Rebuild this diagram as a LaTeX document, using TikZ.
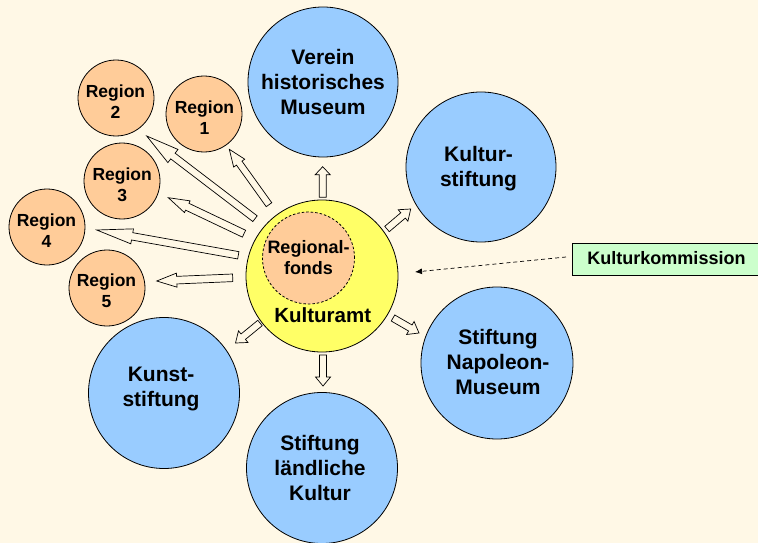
\documentclass[tikz,border=0pt]{standalone}
\usepackage{fontspec}
\setmainfont{Liberation Sans}
\usetikzlibrary{calc,arrows.meta}
\definecolor{bgc}{HTML}{FFF8E6}
\definecolor{bluec}{HTML}{99CCFF}
\definecolor{yelc}{HTML}{FFFF66}
\definecolor{peachc}{HTML}{FFCC99}
\definecolor{greenc}{HTML}{CCFFCC}
\tikzset{
  circbase/.style={circle, draw=black, line width=0.8pt, inner sep=0pt},
  bigc/.style={circbase, fill=bluec, minimum size=150pt},
  regc/.style={circbase, fill=peachc, minimum size=76pt},
  bigtxt/.style={align=center, inner sep=0pt, font=\fontsize{21}{25}\selectfont\bfseries},
  regtxt/.style={align=center, inner sep=0pt, font=\fontsize{17.5}{21}\selectfont\bfseries},
  barrow/.style={draw=black, line width=0.7pt, fill=bgc, line join=miter},
}
\newcommand\blockarr[6]{%
  \coordinate (#1t) at #2;
  \coordinate (#1p) at #3;
  \coordinate (#1h) at ($(#1p)!#6!(#1t)$);
  \draw[barrow] ($(#1t)!#4!90:(#1p)$) -- ($(#1h)!#4!90:(#1p)$) -- ($(#1h)!#5!90:(#1p)$)
    -- (#1p) -- ($(#1h)!#5!-90:(#1p)$) -- ($(#1h)!#4!-90:(#1p)$) -- ($(#1t)!#4!-90:(#1p)$) -- cycle;}
\begin{document}
\begin{tikzpicture}[x=1pt, y=-1pt]
\fill[bgc] (0,0) rectangle (758,543);
\useasboundingbox (0,0) rectangle (758,543);

% big blue circles
\node[bigc] (verein) at (323,82) {};
\node[bigc] (kstift) at (481,167) {};
\node[bigc, minimum size=152pt] (napol) at (497,363) {};
\node[bigc, minimum size=151pt] (laend) at (322,468) {};
\node[bigc, minimum size=151pt] (kunst) at (164,393) {};

\node[bigtxt] (tverein) at (323,81.5) {Verein\\historisches\\Museum};
\node[bigtxt] (tkstift) at (478.5,169) {Kultur-\\stiftung};
\node[bigtxt] (tnapol) at (498,361.5) {Stiftung\\Napoleon-\\Museum};
\node[bigtxt] (tlaend) at (320,468) {Stiftung\\ländliche\\Kultur};
\node[bigtxt] (tkunst) at (161,388.7) {Kunst-\\stiftung};

% regions
\node[regc] (r1) at (204,114) {};
\node[regc] (r2) at (116,98) {};
\node[regc] (r3) at (122,181) {};
\node[regc] (r4) at (47,227) {};
\node[regc] (r5) at (107,288) {};
\node[regtxt] (tr1) at (204.5,117.5) {Region\\1};
\node[regtxt] (tr2) at (115.5,101.5) {Region\\2};
\node[regtxt] (tr3) at (122.2,185) {Region\\3};
\node[regtxt] (tr4) at (46.5,230.5) {Region\\4};
\node[regtxt] (tr5) at (106.5,290.8) {Region\\5};

% Kulturamt
\node[circbase, fill=yelc, minimum size=152pt] (amt) at (322,276) {};
\node[circbase, fill=peachc, minimum size=92pt, dash pattern=on 2.5pt off 2pt] (fonds) at (308.5,258) {};
\node[regtxt, font=\fontsize{18}{21}\selectfont\bfseries] (tfonds) at (308.5,257.5) {Regional-\\fonds};
\node[inner sep=0pt, font=\fontsize{20.5}{24}\selectfont\bfseries] (tamt) at (322.7,315.5) {Kulturamt};

% block arrows to regions
\blockarr{a1}{(269,204.7)}{(229.3,149.3)}{3.4pt}{6.8pt}{17pt}
\blockarr{a2}{(255,218.7)}{(146.7,136)}{3.6pt}{8.3pt}{33pt}
\blockarr{a3}{(244,233.7)}{(168.3,197.7)}{3.8pt}{6.5pt}{21pt}
\blockarr{a4}{(238.3,255.3)}{(96.7,230)}{3.7pt}{7.6pt}{36pt}
\blockarr{a5}{(232.7,277.8)}{(156.7,281)}{3.8pt}{7pt}{20pt}

% block arrows to foundations
\blockarr{b1}{(322.7,197.3)}{(322.7,166.7)}{3.5pt}{7.5pt}{8pt}
\blockarr{b2}{(387,229)}{(410.7,209)}{3.5pt}{7.5pt}{10pt}
\blockarr{b3}{(393,318)}{(419,333)}{3.5pt}{7.5pt}{10pt}
\blockarr{b4}{(323,355)}{(323,386)}{3.5pt}{7.5pt}{9pt}
\blockarr{b5}{(260,323)}{(235.5,343)}{3.5pt}{7.5pt}{10pt}

% Kulturkommission
\node[draw=black, line width=0.8pt, fill=greenc, anchor=west, minimum width=188pt, minimum height=32pt, inner sep=0pt] (komm) at (572,259) {};
\node[inner sep=0pt, font=\fontsize{18}{21}\selectfont\bfseries] (tkomm) at (666.5,258.5) {Kulturkommission};
\coordinate (kommtip) at (415,272);
\draw[line width=0.7pt, dash pattern=on 4pt off 3pt, -{Latex[length=7pt,width=6pt]}] ($(komm.west)+(-6,-2)$) -- (kommtip);
\end{tikzpicture}
\end{document}
